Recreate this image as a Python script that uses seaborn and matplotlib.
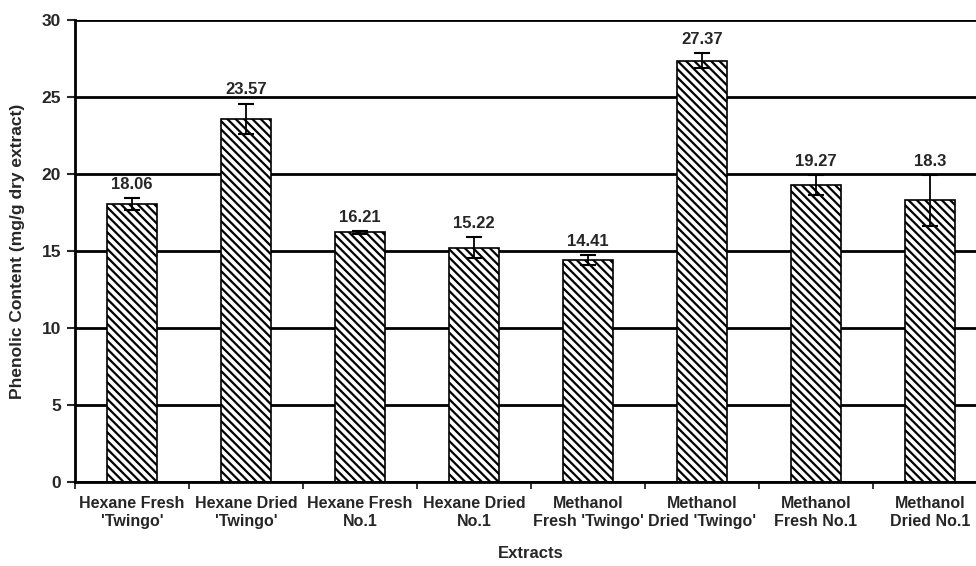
import matplotlib
matplotlib.use("Agg")
import matplotlib.pyplot as plt
import seaborn as sns
import pandas as pd
import numpy as np

categories = ["Hexane Fresh\n'Twingo'", "Hexane Dried\n'Twingo'", "Hexane Fresh\nNo.1",
              "Hexane Dried\nNo.1", "Methanol\nFresh 'Twingo'", "Methanol\nDried 'Twingo'",
              "Methanol\nFresh No.1", "Methanol\nDried No.1"]
values = [18.06, 23.57, 16.21, 15.22, 14.41, 27.37, 19.27, 18.3]
errors = [0.4, 1.0, 0.1, 0.7, 0.3, 0.5, 0.65, 1.65]
labels = ["18.06", "23.57", "16.21", "15.22", "14.41", "27.37", "19.27", "18.3"]

sns.set_style("white")
plt.rcParams['font.family'] = ['Liberation Sans', 'DejaVu Sans']
plt.rcParams['hatch.linewidth'] = 1.6

df = pd.DataFrame({"cat": categories, "val": values})

fig = plt.figure(figsize=(9.76, 5.66), dpi=100)
ax = fig.add_axes([75/976, 1-482/566, 912/976, 462/566])

ax.set_axisbelow(True)
ax.yaxis.grid(True, color='black', linewidth=2)
ax.xaxis.grid(False)

sns.barplot(data=df, x="cat", y="val", color="white", edgecolor="black",
            linewidth=1.2, width=0.44, ax=ax, errorbar=None)
for p in ax.patches:
    p.set_hatch("\\\\\\\\")
    p.set_facecolor("white")
    p.set_edgecolor("black")

xs = np.arange(len(values))
ax.errorbar(xs, values, yerr=errors, fmt='none', ecolor='black', elinewidth=1.3,
            capsize=6, capthick=1.5, zorder=5)
for x, v, e, t in zip(xs, values, errors, labels):
    ax.text(x, v + e + 0.4, t, ha='center', va='bottom', fontsize=12, fontweight='bold')

ax.set_xlim(-0.5, len(values) - 0.5)
ax.set_ylim(0, 30)
ax.set_yticks(range(0, 31, 5))
ax.tick_params(axis='y', labelsize=12.5, length=6, width=1.5, direction='out', left=True, pad=4)
for lab in ax.get_yticklabels():
    lab.set_fontweight('bold')
ax.set_xticks(xs)
ax.set_xticklabels(categories, fontsize=11.5, fontweight='bold', linespacing=1.3)
ax.tick_params(axis='x', which='major', length=0, pad=10)
ax.set_xticks(np.arange(-0.5, len(values), 1), minor=True)
ax.tick_params(axis='x', which='minor', length=5, width=1.3, direction='out', bottom=True)

for s in ['top', 'right']:
    ax.spines[s].set_visible(False)
for s in ['left', 'bottom']:
    ax.spines[s].set_color('black')
    ax.spines[s].set_linewidth(2)

ax.set_xlabel("Extracts", fontsize=12, fontweight='bold', labelpad=12)
ax.set_ylabel("Phenolic Content (mg/g dry extract)", fontsize=12.5, fontweight='bold', labelpad=12)

fig.savefig("out.png", dpi=100)
